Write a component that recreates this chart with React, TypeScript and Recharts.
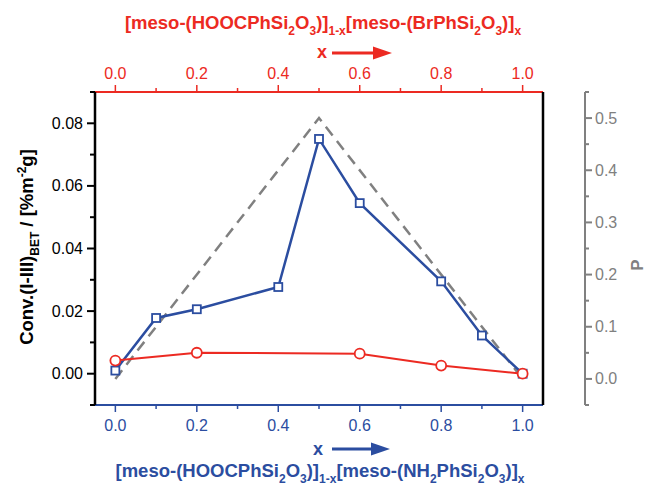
import { ComposedChart, Line, XAxis, YAxis } from "recharts";

const BLUE = "#2B4DA0";
const RED = "#EC2A22";
const GRAY = "#808080";
const FONT = "'Liberation Sans', Arial, sans-serif";

// composition x (shared by both x axes)
const xTicks = [0, 0.1, 0.2, 0.3, 0.4, 0.5, 0.6, 0.7, 0.8, 0.9, 1.0];
const xLabels = [0, 0.2, 0.4, 0.6, 0.8, 1.0];

// conversion axis
const convTicks = [-0.01, 0, 0.01, 0.02, 0.03, 0.04, 0.05, 0.06, 0.07, 0.08, 0.09];
const convLabels = [0, 0.02, 0.04, 0.06, 0.08];

// P axis
const pTicks = [-0.05, 0, 0.05, 0.1, 0.15, 0.2, 0.25, 0.3, 0.35, 0.4, 0.45, 0.5, 0.55];
const pLabels = [0, 0.1, 0.2, 0.3, 0.4, 0.5];

// NH2 series (blue squares)
const nh2X = [0, 0.1, 0.2, 0.4, 0.5, 0.6, 0.8, 0.9, 1.0];
const nh2Conv = [0.001, 0.0178, 0.0206, 0.0277, 0.075, 0.0545, 0.0295, 0.0122, 0.0];

// Br series (red circles)
const brX = [0, 0.2, 0.6, 0.8, 1.0];
const brConv = [0.0042, 0.0067, 0.0064, 0.0026, 0.0];

// statistical P (gray dashed)
const pX = [0, 0.5, 1.0];
const pValues = [0, 0.5, 0];

const nh2Data = nh2X.map((x, i) => ({ x, y: nh2Conv[i] }));
const brData = brX.map((x, i) => ({ x, y: brConv[i] }));
const pData = pX.map((x, i) => ({ x, y: pValues[i] }));

const isLabel = (v: number, list: number[]) => list.some((l) => Math.abs(l - v) < 1e-9);

type Seg = [string, "n" | "sub" | "sup"];

function RichText({ segs, ...rest }: { segs: Seg[]; [k: string]: any }) {
  let shift = 0;
  return (
    <text {...rest}>
      {segs.map(([t, k], i) => {
        const target = k === "sub" ? 6 : k === "sup" ? -7 : 0;
        const dy = target - shift;
        shift = target;
        return (
          <tspan key={i} dy={dy} fontSize={k === "n" ? undefined : 12}>
            {t}
          </tspan>
        );
      })}
    </text>
  );
}

function LeftTick({ x, y, payload }: any) {
  const major = isLabel(payload.value, convLabels);
  return (
    <g>
      <line x1={x} x2={x - (major ? 8 : 5)} y1={y} y2={y} stroke="#000" strokeWidth={2} />
      {major && (
        <text x={x - 12} y={y} textAnchor="end" dominantBaseline="central" fontSize={16} fontFamily={FONT} fill="#000">
          {payload.value.toFixed(2)}
        </text>
      )}
    </g>
  );
}

function RightTick({ x, y, payload }: any) {
  const major = isLabel(payload.value, pLabels);
  return (
    <g>
      <line x1={x} x2={x + (major ? 7 : 4)} y1={y} y2={y} stroke={GRAY} strokeWidth={2} />
      {major && (
        <text x={x + 10} y={y} textAnchor="start" dominantBaseline="central" fontSize={16} fontFamily={FONT} fill={GRAY}>
          {payload.value.toFixed(1)}
        </text>
      )}
    </g>
  );
}

function BottomTick({ x, y, payload }: any) {
  const major = isLabel(payload.value, xLabels);
  return (
    <g>
      <line x1={x} x2={x} y1={y} y2={y + (major ? 7 : 4)} stroke={BLUE} strokeWidth={1.5} />
      {major && (
        <text x={x} y={y + 20} textAnchor="middle" dominantBaseline="central" fontSize={16} fontFamily={FONT} fill={BLUE}>
          {payload.value.toFixed(1)}
        </text>
      )}
    </g>
  );
}

function TopTick({ x, y, payload }: any) {
  const major = isLabel(payload.value, xLabels);
  return (
    <g>
      <line x1={x} x2={x} y1={y} y2={y - (major ? 7 : 4)} stroke={RED} strokeWidth={1.5} />
      {major && (
        <text x={x} y={y - 19} textAnchor="middle" dominantBaseline="central" fontSize={16} fontFamily={FONT} fill={RED}>
          {payload.value.toFixed(1)}
        </text>
      )}
    </g>
  );
}

function SquareDot({ cx, cy }: any) {
  return <rect x={cx - 4} y={cy - 4} width={8} height={8} fill="#fff" stroke={BLUE} strokeWidth={1.8} />;
}

function CircleDot({ cx, cy }: any) {
  return <circle cx={cx} cy={cy} r={5} fill="#fff" stroke={RED} strokeWidth={1.8} />;
}

function Arrow({ x1, x2, y, color }: { x1: number; x2: number; y: number; color: string }) {
  return (
    <g>
      <line x1={x1} x2={x2 - 16} y1={y} y2={y} stroke={color} strokeWidth={3} />
      <polygon points={`${x2 - 19},${y - 6.5} ${x2},${y} ${x2 - 19},${y + 6.5}`} fill={color} />
    </g>
  );
}

const topTitle: Seg[] = [
  ["[meso-(HOOCPhSi", "n"], ["2", "sub"], ["O", "n"], ["3", "sub"], [")]", "n"], ["1-x", "sub"],
  ["[meso-(BrPhSi", "n"], ["2", "sub"], ["O", "n"], ["3", "sub"], [")]", "n"], ["x", "sub"],
];
const bottomTitle: Seg[] = [
  ["[meso-(HOOCPhSi", "n"], ["2", "sub"], ["O", "n"], ["3", "sub"], [")]", "n"], ["1-x", "sub"],
  ["[meso-(NH", "n"], ["2", "sub"], ["PhSi", "n"], ["2", "sub"], ["O", "n"], ["3", "sub"], [")]", "n"], ["x", "sub"],
];
const yTitle: Seg[] = [["Conv.(I-III)", "n"], ["BET", "sub"], [" / [%m", "n"], ["-2", "sup"], ["g]", "n"]];

export default function App() {
  return (
    <div style={{ position: "absolute", left: 0, top: 0, background: "#fff" }}>
      <ComposedChart width={649} height={486} margin={{ top: 0, right: 0, bottom: 0, left: 0 }}>
        <XAxis
          xAxisId="bottom"
          dataKey="x"
          type="number"
          orientation="bottom"
          domain={[-0.05, 1.05]}
          ticks={xTicks}
          interval={0}
          height={81}
          axisLine={{ stroke: BLUE, strokeWidth: 2 }}
          tickLine={false}
          tickSize={0}
          tickMargin={0}
          tick={<BottomTick />}
        />
        <XAxis
          xAxisId="top"
          dataKey="x"
          type="number"
          orientation="top"
          domain={[-0.05, 1.05]}
          ticks={xTicks}
          interval={0}
          height={92}
          axisLine={{ stroke: RED, strokeWidth: 2 }}
          tickLine={false}
          tickSize={0}
          tickMargin={0}
          tick={<TopTick />}
        />
        <YAxis
          yAxisId="left"
          type="number"
          domain={[-0.01, 0.09]}
          ticks={convTicks}
          interval={0}
          width={95}
          axisLine={{ stroke: "#000", strokeWidth: 2.5 }}
          tickLine={false}
          tickSize={0}
          tickMargin={0}
          tick={<LeftTick />}
        />
        <YAxis
          yAxisId="frame"
          type="number"
          orientation="right"
          domain={[0, 1]}
          width={42}
          axisLine={{ stroke: "#000", strokeWidth: 2.5 }}
          tick={false}
          tickLine={false}
        />
        <YAxis
          yAxisId="p"
          type="number"
          orientation="right"
          domain={[-0.05, 0.55]}
          ticks={pTicks}
          interval={0}
          width={64}
          axisLine={{ stroke: GRAY, strokeWidth: 2 }}
          tickLine={false}
          tickSize={0}
          tickMargin={0}
          tick={<RightTick />}
        />
        <Line
          xAxisId="bottom"
          yAxisId="p"
          data={pData}
          dataKey="y"
          stroke={GRAY}
          strokeWidth={2.5}
          strokeDasharray="11 7"
          dot={false}
          isAnimationActive={false}
        />
        <Line
          xAxisId="bottom"
          yAxisId="left"
          data={nh2Data}
          dataKey="y"
          stroke={BLUE}
          strokeWidth={2.5}
          dot={<SquareDot />}
          isAnimationActive={false}
        />
        <Line
          xAxisId="top"
          yAxisId="left"
          data={brData}
          dataKey="y"
          stroke={RED}
          strokeWidth={2}
          dot={<CircleDot />}
          isAnimationActive={false}
        />

        <g fontFamily={FONT} fontWeight="bold">
          <RichText segs={topTitle} x={323} y={29} textAnchor="middle" fontSize={18.5} fill={RED} />
          <text x={322} y={58} textAnchor="middle" fontSize={18} fill={RED}>x</text>
          <Arrow x1={332} x2={392} y={53} color={RED} />

          <RichText segs={bottomTitle} x={320} y={477} textAnchor="middle" fontSize={18.5} fill={BLUE} />
          <text x={318} y={455} textAnchor="middle" fontSize={18} fill={BLUE}>x</text>
          <Arrow x1={332} x2={390} y={449} color={BLUE} />

          <RichText segs={yTitle} x={0} y={0} transform="translate(33,247) rotate(-90)" textAnchor="middle" fontSize={18.5} fill="#000" />
          <text x={0} y={0} transform="translate(643,265) rotate(-90)" textAnchor="middle" fontSize={17} fill={GRAY}>P</text>
        </g>
      </ComposedChart>
    </div>
  );
}
